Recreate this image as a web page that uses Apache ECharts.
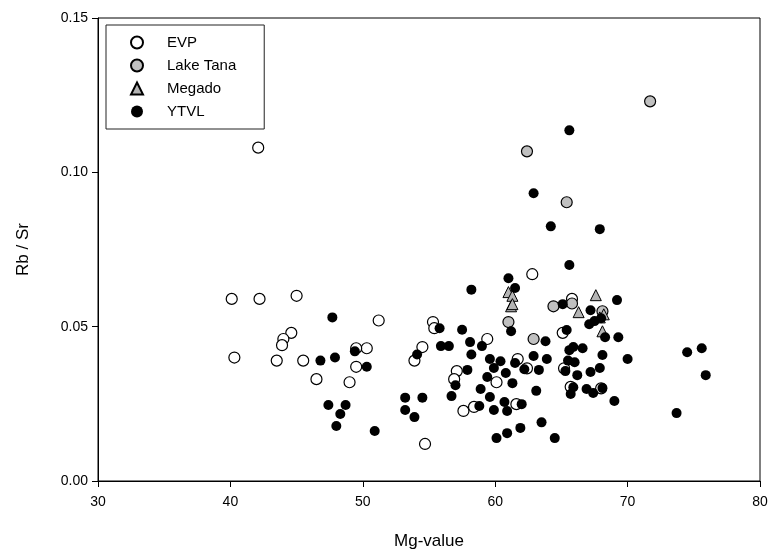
<!DOCTYPE html>
<html>
<head>
<meta charset="utf-8">
<script src="https://cdn.jsdelivr.net/npm/echarts@6/dist/echarts.min.js"></script>
<style>
    html, body { margin: 0; padding: 0; background: #fff; }
    #main { width: 771px; height: 553px; }
</style>
</head>
<body>
<div id="main"></div>
<script>
// 数据 [Mg-value, Rb/Sr]
const evp = [
    [42.1, 0.108], [40.1, 0.059], [42.2, 0.059], [45.0, 0.060], [40.3, 0.040],
    [44.6, 0.048], [44.0, 0.046], [43.9, 0.044], [43.5, 0.039], [45.5, 0.039],
    [46.5, 0.033], [49.0, 0.032], [49.5, 0.037], [50.3, 0.043], [49.5, 0.043],
    [51.2, 0.052], [55.3, 0.0515], [55.4, 0.0495], [59.4, 0.046], [54.5, 0.0434],
    [53.9, 0.039], [57.1, 0.0356], [56.9, 0.033], [57.6, 0.0227], [58.4, 0.024],
    [54.7, 0.012], [62.8, 0.067], [60.1, 0.032], [61.7, 0.0395], [61.6, 0.0249],
    [65.8, 0.059], [65.1, 0.048], [62.4, 0.0365], [65.2, 0.0365], [68.0, 0.030],
    [65.7, 0.0305]
];
const lakeTana = [
    [71.7, 0.123], [62.4, 0.1068], [65.4, 0.0903], [64.4, 0.0566], [65.8, 0.0575],
    [62.9, 0.046], [61.0, 0.0515], [68.1, 0.055]
];
const megado = [
    [61.0, 0.0612], [61.3, 0.060], [61.2, 0.0566], [61.3, 0.0573], [67.6, 0.0602],
    [66.3, 0.0547], [68.1, 0.0485], [68.2, 0.054], [67.9, 0.053]
];
const ytvl = [
    [47.7, 0.053], [47.9, 0.040], [46.8, 0.039], [49.4, 0.042], [50.3, 0.037],
    [47.4, 0.0246], [48.7, 0.0246], [48.3, 0.0217], [48.0, 0.0178], [50.9, 0.0162],
    [55.8, 0.0495], [57.5, 0.049], [58.1, 0.045], [59.0, 0.0437], [55.9, 0.0437],
    [56.5, 0.0437], [54.1, 0.041], [58.2, 0.041], [57.9, 0.036], [57.0, 0.031],
    [56.7, 0.0275], [58.8, 0.0243], [53.2, 0.027], [54.5, 0.027], [53.2, 0.023],
    [53.9, 0.0207], [59.6, 0.0395], [60.4, 0.0388], [59.9, 0.0366], [60.8, 0.035],
    [59.4, 0.0337], [61.3, 0.0317], [58.9, 0.0298], [59.6, 0.0272], [60.7, 0.0256],
    [60.9, 0.0227], [59.9, 0.023], [62.0, 0.0249], [60.1, 0.0139], [60.9, 0.0155],
    [61.9, 0.0172], [61.5, 0.0382], [62.2, 0.0362], [61.2, 0.0485], [61.0, 0.0657],
    [58.2, 0.062], [61.5, 0.0625], [62.9, 0.0405], [63.3, 0.036], [63.1, 0.0292],
    [63.5, 0.019], [69.2, 0.0586], [65.1, 0.0573], [67.2, 0.0553], [67.1, 0.0508],
    [67.5, 0.0518], [68.0, 0.0527], [68.3, 0.0466], [69.3, 0.0466], [65.4, 0.0489],
    [63.8, 0.0453], [65.9, 0.0434], [66.6, 0.043], [65.6, 0.0424], [68.1, 0.0408],
    [70.0, 0.0395], [74.5, 0.0417], [75.6, 0.043], [75.9, 0.0343], [63.9, 0.0395],
    [66.0, 0.0385], [65.5, 0.039], [65.3, 0.0356], [66.2, 0.0343], [67.2, 0.0353],
    [67.9, 0.0366], [65.9, 0.0304], [65.7, 0.0282], [66.9, 0.0298], [67.4, 0.0285],
    [68.1, 0.0301], [69.0, 0.0259], [64.5, 0.0139], [73.7, 0.022], [65.6, 0.070],
    [65.6, 0.1136], [62.9, 0.0932], [64.2, 0.0825], [67.9, 0.0816]
];
const xTicks = [30, 40, 50, 60, 70, 80];
const yTicks = [0, 0.05, 0.10, 0.15];

const font = 'Liberation Sans, Arial, sans-serif';

const chart = echarts.init(document.getElementById('main'));

const option = {
    animation: false,
    backgroundColor: '#fff',
    grid: {
        left: 98, top: 18, right: 11, bottom: 72,
        outerBoundsMode: 'none',
        show: true, borderColor: '#000', borderWidth: 1
    },
    legend: {
        orient: 'vertical',
        left: 106, top: 25,
        borderColor: '#222', borderWidth: 1,
        padding: [10, 28, 10, 24],
        itemWidth: 12, itemHeight: 12,
        itemGap: 8,
        textStyle: { fontFamily: font, fontSize: 15, color: '#000', padding: [0, 0, 0, 19] },
        data: ['EVP', 'Lake Tana', 'Megado', 'YTVL']
    },
    xAxis: {
        type: 'value',
        min: xTicks[0], max: xTicks[xTicks.length - 1], interval: 10,
        name: 'Mg-value', nameLocation: 'middle', nameGap: 52,
        nameTextStyle: { fontFamily: font, fontSize: 17, color: '#000' },
        axisLine: { lineStyle: { color: '#000', width: 1 } },
        axisTick: { length: 6, lineStyle: { color: '#000' } },
        axisLabel: { fontFamily: font, fontSize: 14, color: '#000', margin: 14 },
        splitLine: { show: false }
    },
    yAxis: {
        type: 'value',
        min: yTicks[0], max: yTicks[yTicks.length - 1], interval: 0.05,
        name: 'Rb / Sr', nameLocation: 'middle', nameGap: 66,
        nameTextStyle: { fontFamily: font, fontSize: 17, color: '#000' },
        axisLine: { lineStyle: { color: '#000', width: 1 } },
        axisTick: { length: 6, lineStyle: { color: '#000' } },
        axisLabel: {
            fontFamily: font, fontSize: 14, color: '#000', margin: 10,
            formatter: v => v.toFixed(2)
        },
        splitLine: { show: false }
    },
    series: [
        {
            name: 'EVP', type: 'scatter', data: evp,
            symbol: 'circle', symbolSize: 11,
            itemStyle: { color: '#fff', borderColor: '#000', borderWidth: 1.2, opacity: 1 }
        },
        {
            name: 'Lake Tana', type: 'scatter', data: lakeTana,
            symbol: 'circle', symbolSize: 11,
            itemStyle: { color: '#c0c0c0', borderColor: '#000', borderWidth: 1.2, opacity: 1 }
        },
        {
            name: 'Megado', type: 'scatter', data: megado,
            symbol: 'triangle', symbolSize: 11,
            itemStyle: { color: '#b4b4b4', borderColor: '#000', borderWidth: 1, opacity: 1 }
        },
        {
            name: 'YTVL', type: 'scatter', data: ytvl,
            symbol: 'circle', symbolSize: 10,
            itemStyle: { color: '#000', borderWidth: 0, opacity: 1 }
        }
    ]
};

chart.setOption(option);
</script>
</body>
</html>
